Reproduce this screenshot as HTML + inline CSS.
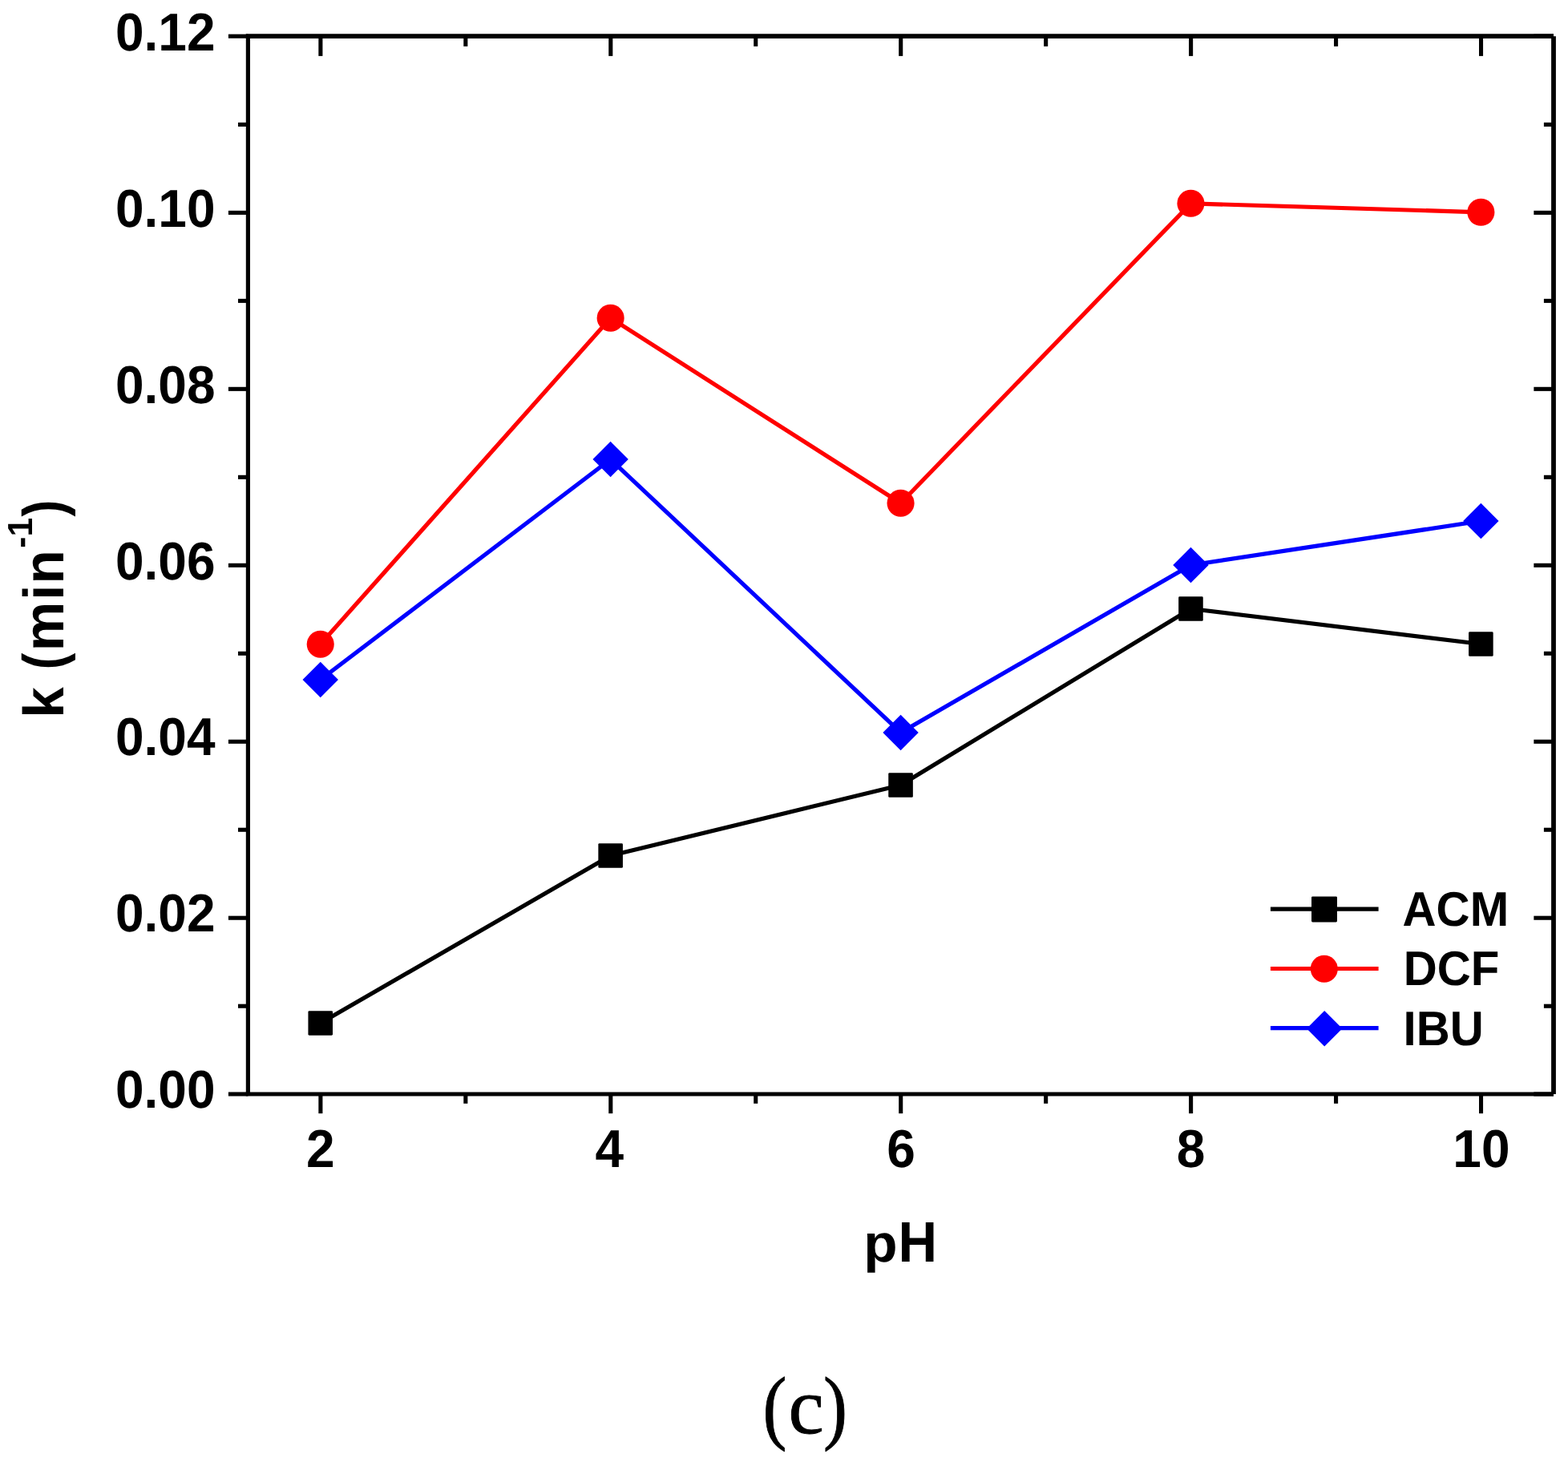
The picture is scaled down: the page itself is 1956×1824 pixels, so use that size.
<!DOCTYPE html>
<html lang="en">
<head>
<meta charset="utf-8">
<title>k vs pH</title>
<style>
html,body{margin:0;padding:0;background:#fff;}
body{width:1956px;height:1824px;overflow:hidden;position:relative;}
svg{position:absolute;left:0;top:0;display:block;}
svg text{font-family:"Liberation Sans",sans-serif;font-weight:bold;fill:#000;text-rendering:geometricPrecision;}
svg text.cap{font-family:"Liberation Serif",serif;font-weight:normal;stroke:#000;stroke-width:0.9px;stroke-linejoin:round;}
</style>
</head>
<body>
<svg width="1956" height="1824" viewBox="0 0 1956 1824">
<rect x="0" y="0" width="1956" height="1824" fill="#ffffff"/>
<g>
<polyline points="399.73,1276.46 761.64,1067.50 1123.55,979.51 1485.46,759.54 1847.37,803.54" fill="none" stroke="#000000" stroke-width="5.2" stroke-linejoin="round"/>
<rect x="384.43" y="1261.16" width="30.6" height="30.6" rx="1.4" fill="#000000"/>
<rect x="746.34" y="1052.20" width="30.6" height="30.6" rx="1.4" fill="#000000"/>
<rect x="1108.25" y="964.21" width="30.6" height="30.6" rx="1.4" fill="#000000"/>
<rect x="1470.16" y="744.24" width="30.6" height="30.6" rx="1.4" fill="#000000"/>
<rect x="1832.07" y="788.24" width="30.6" height="30.6" rx="1.4" fill="#000000"/>
<polyline points="399.73,803.74 761.64,396.80 1123.55,627.76 1485.46,253.82 1847.37,264.82" fill="none" stroke="#ff0000" stroke-width="5.2" stroke-linejoin="round"/>
<circle cx="399.73" cy="803.74" r="17.05" fill="#ff0000"/>
<circle cx="761.64" cy="396.80" r="17.05" fill="#ff0000"/>
<circle cx="1123.55" cy="627.76" r="17.05" fill="#ff0000"/>
<circle cx="1485.46" cy="253.82" r="17.05" fill="#ff0000"/>
<circle cx="1847.37" cy="264.82" r="17.05" fill="#ff0000"/>
<polyline points="399.73,847.98 761.64,573.02 1123.55,913.97 1485.46,705.00 1847.37,650.01" fill="none" stroke="#0000ff" stroke-width="5.2" stroke-linejoin="round"/>
<polygon points="377.53,847.98 399.73,825.78 421.93,847.98 399.73,870.18" fill="#0000ff"/>
<polygon points="739.44,573.02 761.64,550.82 783.84,573.02 761.64,595.22" fill="#0000ff"/>
<polygon points="1101.35,913.97 1123.55,891.77 1145.75,913.97 1123.55,936.17" fill="#0000ff"/>
<polygon points="1463.26,705.00 1485.46,682.80 1507.66,705.00 1485.46,727.20" fill="#0000ff"/>
<polygon points="1825.17,650.01 1847.37,627.81 1869.57,650.01 1847.37,672.21" fill="#0000ff"/>
<line x1="306.80" y1="45.15" x2="1938.00" y2="45.15" stroke="#000" stroke-width="5.6"/>
<line x1="306.80" y1="1365.00" x2="1938.00" y2="1365.00" stroke="#000" stroke-width="5.2"/>
<line x1="309.40" y1="45.20" x2="309.40" y2="1365.00" stroke="#000" stroke-width="5.2"/>
<line x1="1938.00" y1="45.20" x2="1938.00" y2="1365.00" stroke="#000" stroke-width="5.8"/>
<line x1="284.90" y1="1365.00" x2="309.40" y2="1365.00" stroke="#000" stroke-width="5.1"/>
<line x1="1913.35" y1="1365.00" x2="1938.00" y2="1365.00" stroke="#000" stroke-width="5.1"/>
<line x1="297.00" y1="1255.22" x2="309.40" y2="1255.22" stroke="#000" stroke-width="5.1"/>
<line x1="1925.90" y1="1255.22" x2="1938.00" y2="1255.22" stroke="#000" stroke-width="5.1"/>
<line x1="284.90" y1="1145.23" x2="309.40" y2="1145.23" stroke="#000" stroke-width="5.1"/>
<line x1="1913.35" y1="1145.23" x2="1938.00" y2="1145.23" stroke="#000" stroke-width="5.1"/>
<line x1="297.00" y1="1035.25" x2="309.40" y2="1035.25" stroke="#000" stroke-width="5.1"/>
<line x1="1925.90" y1="1035.25" x2="1938.00" y2="1035.25" stroke="#000" stroke-width="5.1"/>
<line x1="284.90" y1="925.27" x2="309.40" y2="925.27" stroke="#000" stroke-width="5.1"/>
<line x1="1913.35" y1="925.27" x2="1938.00" y2="925.27" stroke="#000" stroke-width="5.1"/>
<line x1="297.00" y1="815.28" x2="309.40" y2="815.28" stroke="#000" stroke-width="5.1"/>
<line x1="1925.90" y1="815.28" x2="1938.00" y2="815.28" stroke="#000" stroke-width="5.1"/>
<line x1="284.90" y1="705.30" x2="309.40" y2="705.30" stroke="#000" stroke-width="5.1"/>
<line x1="1913.35" y1="705.30" x2="1938.00" y2="705.30" stroke="#000" stroke-width="5.1"/>
<line x1="297.00" y1="595.32" x2="309.40" y2="595.32" stroke="#000" stroke-width="5.1"/>
<line x1="1925.90" y1="595.32" x2="1938.00" y2="595.32" stroke="#000" stroke-width="5.1"/>
<line x1="284.90" y1="485.33" x2="309.40" y2="485.33" stroke="#000" stroke-width="5.1"/>
<line x1="1913.35" y1="485.33" x2="1938.00" y2="485.33" stroke="#000" stroke-width="5.1"/>
<line x1="297.00" y1="375.35" x2="309.40" y2="375.35" stroke="#000" stroke-width="5.1"/>
<line x1="1925.90" y1="375.35" x2="1938.00" y2="375.35" stroke="#000" stroke-width="5.1"/>
<line x1="284.90" y1="265.37" x2="309.40" y2="265.37" stroke="#000" stroke-width="5.1"/>
<line x1="1913.35" y1="265.37" x2="1938.00" y2="265.37" stroke="#000" stroke-width="5.1"/>
<line x1="297.00" y1="155.38" x2="309.40" y2="155.38" stroke="#000" stroke-width="5.1"/>
<line x1="1925.90" y1="155.38" x2="1938.00" y2="155.38" stroke="#000" stroke-width="5.1"/>
<line x1="284.90" y1="45.20" x2="309.40" y2="45.20" stroke="#000" stroke-width="5.1"/>
<line x1="1913.35" y1="45.20" x2="1938.00" y2="45.20" stroke="#000" stroke-width="5.1"/>
<line x1="399.88" y1="1365.00" x2="399.88" y2="1389.15" stroke="#000" stroke-width="5.1"/>
<line x1="399.88" y1="45.20" x2="399.88" y2="69.90" stroke="#000" stroke-width="5.1"/>
<line x1="580.83" y1="1365.00" x2="580.83" y2="1376.80" stroke="#000" stroke-width="5.1"/>
<line x1="580.83" y1="45.20" x2="580.83" y2="57.85" stroke="#000" stroke-width="5.1"/>
<line x1="761.79" y1="1365.00" x2="761.79" y2="1389.15" stroke="#000" stroke-width="5.1"/>
<line x1="761.79" y1="45.20" x2="761.79" y2="69.90" stroke="#000" stroke-width="5.1"/>
<line x1="942.74" y1="1365.00" x2="942.74" y2="1376.80" stroke="#000" stroke-width="5.1"/>
<line x1="942.74" y1="45.20" x2="942.74" y2="57.85" stroke="#000" stroke-width="5.1"/>
<line x1="1123.70" y1="1365.00" x2="1123.70" y2="1389.15" stroke="#000" stroke-width="5.1"/>
<line x1="1123.70" y1="45.20" x2="1123.70" y2="69.90" stroke="#000" stroke-width="5.1"/>
<line x1="1304.66" y1="1365.00" x2="1304.66" y2="1376.80" stroke="#000" stroke-width="5.1"/>
<line x1="1304.66" y1="45.20" x2="1304.66" y2="57.85" stroke="#000" stroke-width="5.1"/>
<line x1="1485.61" y1="1365.00" x2="1485.61" y2="1389.15" stroke="#000" stroke-width="5.1"/>
<line x1="1485.61" y1="45.20" x2="1485.61" y2="69.90" stroke="#000" stroke-width="5.1"/>
<line x1="1666.57" y1="1365.00" x2="1666.57" y2="1376.80" stroke="#000" stroke-width="5.1"/>
<line x1="1666.57" y1="45.20" x2="1666.57" y2="57.85" stroke="#000" stroke-width="5.1"/>
<line x1="1847.52" y1="1365.00" x2="1847.52" y2="1389.15" stroke="#000" stroke-width="5.1"/>
<line x1="1847.52" y1="45.20" x2="1847.52" y2="69.90" stroke="#000" stroke-width="5.1"/>
<line x1="1584.90" y1="1134.10" x2="1719.60" y2="1134.10" stroke="#000000" stroke-width="5.2"/>
<rect x="1636.00" y="1118.40" width="32.0" height="32.0" rx="1.4" fill="#000000"/>
<line x1="1584.90" y1="1208.50" x2="1719.60" y2="1208.50" stroke="#ff0000" stroke-width="5.2"/>
<circle cx="1651.80" cy="1208.70" r="17.05" fill="#ff0000"/>
<line x1="1584.90" y1="1282.60" x2="1719.60" y2="1282.60" stroke="#0000ff" stroke-width="5.2"/>
<polygon points="1630.00,1283.20 1652.20,1261.00 1674.40,1283.20 1652.20,1305.40" fill="#0000ff"/>
</g>
<g>
<text transform="translate(268.50,1382.00) scale(1,1.0405)" text-anchor="end" font-size="64">0.00</text>
<text transform="translate(268.50,1162.17) scale(1,1.0405)" text-anchor="end" font-size="64">0.02</text>
<text transform="translate(268.50,942.34) scale(1,1.0405)" text-anchor="end" font-size="64">0.04</text>
<text transform="translate(268.50,722.51) scale(1,1.0405)" text-anchor="end" font-size="64">0.06</text>
<text transform="translate(268.50,502.68) scale(1,1.0405)" text-anchor="end" font-size="64">0.08</text>
<text transform="translate(268.50,282.85) scale(1,1.0405)" text-anchor="end" font-size="64">0.10</text>
<text transform="translate(268.50,63.02) scale(1,1.0405)" text-anchor="end" font-size="64">0.12</text>
<text transform="translate(399.88,1455.80) scale(1,1.0405)" text-anchor="middle" font-size="64">2</text>
<text transform="translate(760.39,1455.80) scale(1,1.0405)" text-anchor="middle" font-size="64">4</text>
<text transform="translate(1124.10,1455.80) scale(1,1.0405)" text-anchor="middle" font-size="64">6</text>
<text transform="translate(1485.61,1455.80) scale(1,1.0405)" text-anchor="middle" font-size="64">8</text>
<text transform="translate(1847.92,1455.80) scale(1,1.0405)" text-anchor="middle" font-size="64">10</text>
<text x="1077.2" y="1573.8" font-size="69.3"><tspan font-size="66.3" textLength="42.33" lengthAdjust="spacingAndGlyphs">p</tspan><tspan x="1120.53" font-size="71.4" textLength="48.5" lengthAdjust="spacingAndGlyphs">H</tspan></text>
<text transform="translate(79.0,895.67) rotate(-90) scale(1,1.0245)" font-size="69.3"><tspan x="0">k </tspan><tspan x="60.24" font-size="70.4" textLength="20.9" lengthAdjust="spacingAndGlyphs">(</tspan><tspan x="83.33">m</tspan><tspan x="146.98">i</tspan><tspan x="167.17">n</tspan><tspan x="211.83" dy="-38.16" font-size="42.4">-</tspan><tspan x="226.18" font-size="42.4">1</tspan><tspan x="251.15" dy="38.16" font-size="70.4" textLength="20.9" lengthAdjust="spacingAndGlyphs">)</tspan></text>
<text transform="translate(1749.60,1154.90) scale(1,1.0405)" text-anchor="start" font-size="58.2">ACM</text>
<text transform="translate(1750.80,1228.90) scale(1,1.0405)" text-anchor="start" font-size="58.2">DCF</text>
<text transform="translate(1750.60,1303.90) scale(1,1.0405)" text-anchor="start" font-size="58.2">IBU</text>
</g>
<text class="cap" y="1788.4" font-size="99.8"><tspan x="951.6" dy="0.9" font-size="102.7" textLength="29.95" lengthAdjust="spacingAndGlyphs">(</tspan><tspan x="983.55" dy="-0.9">c</tspan><tspan x="1027.05" dy="0.9" font-size="102.7" textLength="29.95" lengthAdjust="spacingAndGlyphs">)</tspan></text>
</svg>
</body>
</html>
